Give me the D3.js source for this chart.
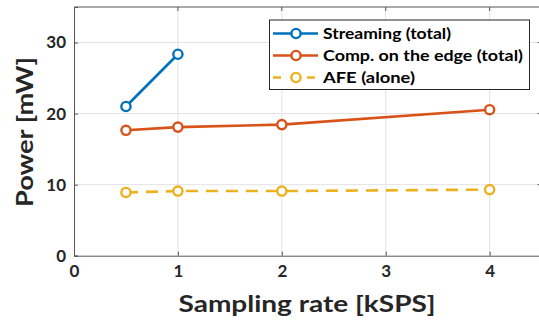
<!DOCTYPE html>
<html><head><meta charset="utf-8">
<script src="https://cdn.jsdelivr.net/npm/d3@7"></script>
<style>body{margin:0;background:#fff}svg{display:block}text{font-family:Lato,"DejaVu Sans",sans-serif;font-weight:bold}</style>
</head><body>
<script>
const xTicks = [0, 1, 2, 3, 4];
const yTicks = [0, 10, 20, 30];
const streamingX = [0.5, 1];
const streamingY = [21.0, 28.35];
const edgeX = [0.5, 1, 2, 4];
const edgeY = [17.65, 18.1, 18.45, 20.55];
const afeX = [0.5, 1, 2, 4];
const afeY = [8.9, 9.1, 9.1, 9.3];
const seriesNames = ["Streaming (total)", "Comp. on the edge (total)", "AFE (alone)"];
const colors = ["#0072BD", "#D95319", "#EDB120"];
const xLabel = "Sampling rate [kSPS]";
const yLabel = "Power [mW]";

const W = 539, H = 320;
const L = 74, T = 7, R = 541.6, B = 255.7;
const svg = d3.select("body").append("svg").attr("width", W).attr("height", H);
const x = d3.scaleLinear().domain([0, 4.5]).range([L, R]);
const y = d3.scaleLinear().domain([0, 35]).range([B, T]);

// grid
svg.append("g").selectAll("line").data(xTicks.slice(1)).join("line")
  .attr("x1", d => x(d)).attr("x2", d => x(d)).attr("y1", T).attr("y2", B)
  .attr("stroke", "#e3e3e3").attr("stroke-width", 1);
svg.append("g").selectAll("line").data(yTicks.slice(1)).join("line")
  .attr("x1", L).attr("x2", R).attr("y1", d => y(d)).attr("y2", d => y(d))
  .attr("stroke", "#e3e3e3").attr("stroke-width", 1);

// axes
const xa = svg.append("g").attr("transform", `translate(0,${B})`)
  .call(d3.axisBottom(x).tickValues(xTicks).tickSize(-4).tickPadding(9).tickFormat(d3.format("d")));
const ya = svg.append("g").attr("transform", `translate(${L},0)`)
  .call(d3.axisLeft(y).tickValues(yTicks).tickSize(-4).tickPadding(8).tickFormat(d3.format("d")));
[xa, ya].forEach(a => {
  a.select(".domain").attr("stroke", "#555").attr("stroke-width", 1);
  a.selectAll(".tick line").attr("stroke", "#555");
  a.selectAll("text").attr("font-size", 17).attr("fill", "#262626")
    .style("font-family", "Lato, sans-serif").style("font-weight", "bold");
});
// top and right box edges
svg.append("line").attr("x1", L).attr("x2", R).attr("y1", T).attr("y2", T).attr("stroke", "#555");
svg.append("line").attr("x1", R).attr("x2", R).attr("y1", T).attr("y2", B).attr("stroke", "#555");
svg.append("g").selectAll("line").data(xTicks.slice(1)).join("line")
  .attr("x1", d => x(d)).attr("x2", d => x(d)).attr("y1", T).attr("y2", T + 4).attr("stroke", "#555");
svg.append("g").selectAll("line").data(yTicks.slice(1)).join("line")
  .attr("x1", R - 4).attr("x2", R).attr("y1", d => y(d)).attr("y2", d => y(d)).attr("stroke", "#555");

// labels
svg.append("text").attr("x", 307).attr("y", 311.5).attr("text-anchor", "middle")
  .attr("font-size", 23).attr("fill", "#262626").attr("textLength", 257).attr("lengthAdjust", "spacingAndGlyphs").text(xLabel);
svg.append("text").attr("transform", "translate(33,132) rotate(-90)").attr("text-anchor", "middle")
  .attr("font-size", 23).attr("fill", "#262626").attr("textLength", 150).attr("lengthAdjust", "spacingAndGlyphs").text(yLabel);

// series
const series = [
  {xs: streamingX, ys: streamingY, c: colors[0], dash: null},
  {xs: edgeX, ys: edgeY, c: colors[1], dash: null},
  {xs: afeX, ys: afeY, c: colors[2], dash: "12,8"}
];
const line = d3.line().x(d => x(d[0])).y(d => y(d[1]));
series.forEach(s => {
  const pts = s.xs.map((v, i) => [v, s.ys[i]]);
  svg.append("path").attr("d", line(pts)).attr("fill", "none").attr("stroke", s.c)
    .attr("stroke-width", 2.6).attr("stroke-dasharray", s.dash);
  svg.append("g").selectAll("circle").data(pts).join("circle")
    .attr("cx", d => x(d[0])).attr("cy", d => y(d[1])).attr("r", 4.6)
    .attr("fill", "#fff").attr("stroke", s.c).attr("stroke-width", 2.4);
});

// legend
const lg = svg.append("g");
lg.append("rect").attr("x", 269.5).attr("y", 20).attr("width", 260).attr("height", 69.5)
  .attr("fill", "#fff").attr("stroke", "#262626").attr("stroke-width", 1);
const textW = [128, 200, 92];
seriesNames.forEach((n, i) => {
  const yy = 33.5 + i * 22;
  lg.append("line").attr("x1", 273).attr("x2", 318).attr("y1", yy).attr("y2", yy)
    .attr("stroke", colors[i]).attr("stroke-width", 2.6).attr("stroke-dasharray", series[i].dash ? "8,9" : null);
  lg.append("circle").attr("cx", 296).attr("cy", yy).attr("r", 4.6).attr("fill", "#fff")
    .attr("stroke", colors[i]).attr("stroke-width", 2.4);
  lg.append("text").attr("x", 323).attr("y", yy + 5.5).attr("font-size", 15.5)
    .attr("fill", "#000").attr("textLength", textW[i]).attr("lengthAdjust", "spacingAndGlyphs").text(n);
});
</script>
</body></html>
